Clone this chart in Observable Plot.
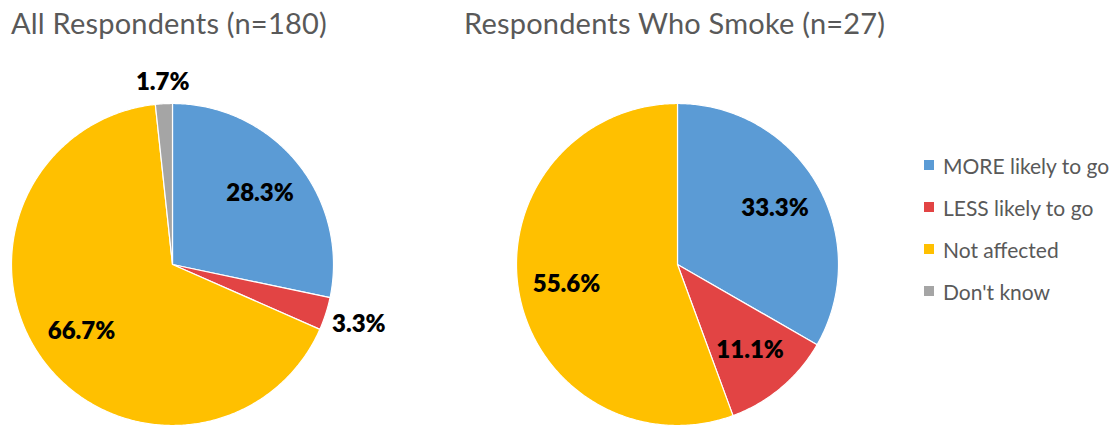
<!DOCTYPE html>
<html>
<head>
<meta charset="utf-8">
<script src="https://cdn.jsdelivr.net/npm/d3@7"></script>
<script src="https://cdn.jsdelivr.net/npm/@observablehq/plot@0.6"></script>
<style>
  body { margin: 0; background: #fff; }
  #wrap { position: relative; width: 1120px; height: 427px; overflow: hidden; font-family: Lato, "Open Sans", sans-serif; }
  .title { position: absolute; top: 8px; font-size: 29px; font-weight: 400; color: #595959; line-height: 1; white-space: nowrap; letter-spacing: 0.2px; }
  #legend { position: absolute; left: 924px; top: 144px; }
  .row { display: flex; align-items: center; height: 42px; font-size: 21px; color: #595959; white-space: nowrap; }
  .sw { width: 10px; height: 10px; margin-right: 9px; flex: none; }
  #chart { position: absolute; left: 0; top: 0; }
</style>
</head>
<body>
<div id="wrap"><div id="chart"></div></div>
<script>
// ---- data ----
const categories = ["MORE likely to go", "LESS likely to go", "Not affected", "Don't know"];
const categoryColors = ["#5B9BD5", "#E24444", "#FFC000", "#A5A5A5"];
const pieTitles = ["All Respondents (n=180)", "Respondents Who Smoke (n=27)"];
const allRespondents = [28.3, 3.3, 66.7, 1.7];
const smokers = [33.3, 11.1, 55.6, 0];

// ---- layout (pixels) ----
const W = 1120, H = 427, R = 161;
const centersPx = [[172, 264], [677, 264]];
const titleLeft = [11, 464];

const wrap = document.getElementById("wrap");
pieTitles.forEach((t, i) => {
  const d = document.createElement("div");
  d.className = "title"; d.style.left = titleLeft[i] + "px"; d.textContent = t;
  wrap.appendChild(d);
});
const legend = document.createElement("div");
legend.id = "legend";
categories.forEach((c, i) => {
  const r = document.createElement("div"); r.className = "row";
  const s = document.createElement("span"); s.className = "sw"; s.style.background = categoryColors[i];
  const t = document.createElement("span"); t.textContent = c;
  r.appendChild(s); r.appendChild(t); legend.appendChild(r);
});
wrap.appendChild(legend);

// unit coordinates: pie radius = 1
const c0 = centersPx[0];
const centers = centersPx.map(([px]) => (px - c0[0]) / R);
const pie = d3.pie().sort(null).value(d => d.value);

const slicePts = [];
const labels = [];
[allRespondents, smokers].forEach((vals, p) => {
  const arcs = pie(vals.map((v, i) => ({value: v, cat: categories[i]})));
  arcs.forEach((a, i) => {
    if (a.data.value <= 0) return;
    const key = p + "-" + i;
    const cx = centers[p];
    slicePts.push({key, cat: a.data.cat, x: cx, y: 0});
    const n = Math.max(2, Math.ceil((a.endAngle - a.startAngle) / 0.01));
    for (let k = 0; k <= n; k++) {
      const t = a.startAngle + (a.endAngle - a.startAngle) * k / n;
      slicePts.push({key, cat: a.data.cat, x: cx + Math.sin(t), y: Math.cos(t)});
    }
    const mid = (a.startAngle + a.endAngle) / 2;
    const small = a.data.value < 5;
    const r = small ? 1.13 + 0.09 * Math.abs(Math.sin(mid)) : 0.70;
    labels.push({x: cx + r * Math.sin(mid), y: r * Math.cos(mid), text: a.data.value.toFixed(1) + "%"});
  });
});

const chart = Plot.plot({
  width: W, height: H,
  margin: 0,
  x: {domain: [-c0[0] / R, (W - c0[0]) / R], axis: null},
  y: {domain: [(c0[1] - H) / R, c0[1] / R], axis: null},
  color: {domain: categories, range: categoryColors},
  style: {background: "transparent"},
  marks: [
    Plot.line(slicePts, {x: "x", y: "y", z: "key", fill: "cat", stroke: "white", strokeWidth: 1.2, curve: "linear-closed"}),
    Plot.text(labels, {x: "x", y: "y", text: "text", fontSize: 24, fontWeight: 800, fill: "black", fontFamily: "Lato, 'Open Sans', sans-serif"})
  ]
});
document.getElementById("chart").appendChild(chart);
</script>
</body>
</html>
